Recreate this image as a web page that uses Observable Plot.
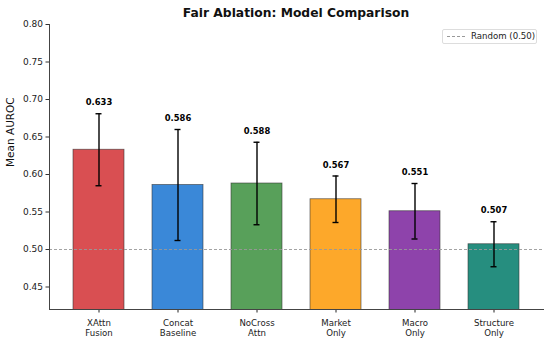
<!DOCTYPE html>
<html>
<head>
<meta charset="utf-8">
<script src="https://cdn.jsdelivr.net/npm/d3@7"></script>
<script src="https://cdn.jsdelivr.net/npm/@observablehq/plot@0.6"></script>
<style>
  html, body { margin: 0; padding: 0; background: #fff; }
  #wrap { position: relative; width: 550px; height: 341px; font-family: "DejaVu Sans", sans-serif; }
  #chart svg, #chart svg text { font-family: "DejaVu Sans", sans-serif; }
  #title { position: absolute; left: 46px; width: 500px; top: 6px; text-align: center; font-weight: bold; font-size: 12.3px; color: #111; }
  #legend { position: absolute; left: 442px; top: 29px; width: 93px; height: 13px; border: 1px solid #ddd; border-radius: 2px; font-size: 8.6px; color: #222; background: #fff; }
  #legend .ln { position: absolute; left: 4px; top: 6px; width: 18px; border-top: 1px dashed #999; }
  #legend .tx { position: absolute; left: 28px; top: 1px; white-space: nowrap; }
</style>
</head>
<body>
<div id="wrap">
  <div id="chart"></div>
  <div id="title">Fair Ablation: Model Comparison</div>
  <div id="legend"><div class="ln"></div><div class="tx">Random (0.50)</div></div>
</div>
<script>
const models = ["XAttn\nFusion", "Concat\nBaseline", "NoCross\nAttn", "Market\nOnly", "Macro\nOnly", "Structure\nOnly"];
const means = [0.633, 0.586, 0.588, 0.567, 0.551, 0.507];
const errs = [0.048, 0.074, 0.055, 0.031, 0.037, 0.030];
const colors = ["#d94f52", "#3a88d8", "#58a05a", "#fda82a", "#8e43ab", "#268e7f"];
const yTicks = [0.45, 0.50, 0.55, 0.60, 0.65, 0.70, 0.75, 0.80];
const randomLevel = 0.50;

const data = models.map((m, i) => ({model: m, mean: means[i], err: errs[i], lo: means[i] - errs[i], hi: means[i] + errs[i], color: colors[i]}));

const chart = Plot.plot({
  width: 550,
  height: 341,
  marginTop: 24,
  marginBottom: 32,
  marginLeft: 49,
  marginRight: 7,
  style: {fontFamily: "DejaVu Sans, sans-serif", fontSize: "8.8px", color: "#222", background: "#fff"},
  x: {domain: models, paddingInner: 0.35, paddingOuter: 0.2825, label: null},
  y: {domain: [0.42, 0.80], label: null},
  marks: [
    Plot.barY(data, {x: "model", y: "mean", fill: "color", stroke: "#333", strokeOpacity: 0.7, strokeWidth: 0.8, clip: true}),
    Plot.ruleY([randomLevel], {stroke: "#999", strokeDasharray: "3,2", strokeWidth: 0.9}),
    Plot.ruleX(data, {x: "model", y1: "lo", y2: "hi", stroke: "#000", strokeWidth: 1.4}),
    Plot.tickY(data, {x: "model", y: "lo", stroke: "#000", strokeWidth: 1.4, insetLeft: 22.5, insetRight: 22.5}),
    Plot.tickY(data, {x: "model", y: "hi", stroke: "#000", strokeWidth: 1.4, insetLeft: 22.5, insetRight: 22.5}),
    Plot.text(data, {x: "model", y: "hi", text: d => d.mean.toFixed(3), dy: -11, fontWeight: "bold", fontSize: 8.4, fill: "#000"}),
    Plot.axisY({ticks: yTicks, tickFormat: d => d.toFixed(2), tickSize: 3.5, tickPadding: 3, fontSize: 9, label: null, stroke: "#333", fill: "#222"}),
    Plot.axisX({tickSize: 3.5, tickPadding: 5, fontSize: 8.6, label: null, lineHeight: 1.23, fill: "#222"}),
    Plot.frame({anchor: "left", stroke: "#444", strokeWidth: 1}),
    Plot.frame({anchor: "bottom", stroke: "#444", strokeWidth: 1}),
    Plot.text(["Mean AUROC"], {frameAnchor: "left", dx: -39, rotate: -90, fontSize: 10.5, fill: "#111"})
  ]
});
document.getElementById("chart").appendChild(chart);
</script>
</body>
</html>
